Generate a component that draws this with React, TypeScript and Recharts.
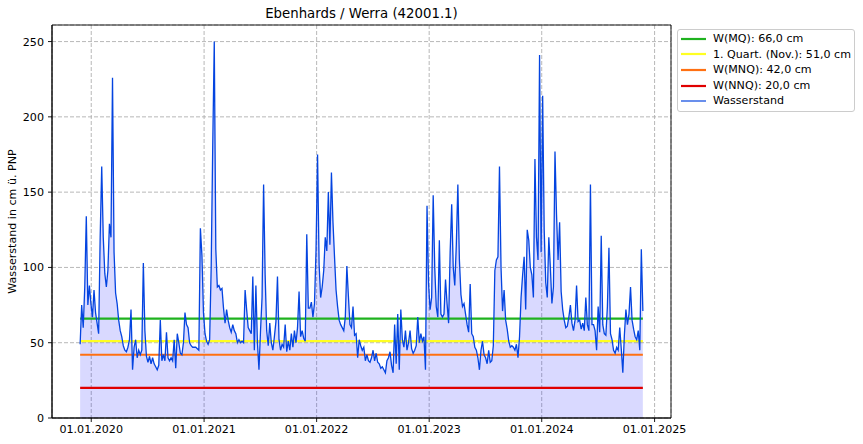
import React from 'react';
import {
  ComposedChart,
  Area,
  Line,
  XAxis,
  YAxis,
  CartesianGrid,
  ReferenceArea,
  Legend,
} from 'recharts';

// ---- data ----
const seriesStart = Date.UTC(2019, 10, 26);
const stepDays = 5;
const DAY_MS = 86400000;

// Wasserstand (cm), one reading every 5 days from 26.11.2019
const waterLevel: number[] = [
  49, 75, 60, 87, 134, 75, 88, 76, 67, 85,
  70, 63, 56, 120, 167, 120, 96, 87, 98, 129,
  120, 226, 110, 83, 76, 65, 58, 54, 48, 45,
  44, 47, 52, 72, 32, 47, 52, 40, 45, 42,
  45, 103, 58, 41, 37, 41, 36, 40, 36, 34,
  32, 35, 65, 38, 42, 38, 57, 40, 38, 40,
  38, 52, 33, 56, 50, 43, 42, 50, 70, 62,
  60, 50, 48, 47, 47, 47, 46, 45, 126, 108,
  70, 56, 51, 49, 52, 100, 180, 250, 112, 87,
  88, 85, 86, 73, 63, 72, 65, 60, 57, 62,
  58, 56, 50, 52, 50, 51, 50, 85, 72, 60,
  58, 56, 94, 45, 88, 50, 32, 58, 80, 155,
  95, 58, 48, 63, 50, 45, 54, 64, 94, 52,
  45, 49, 47, 62, 44, 51, 45, 56, 47, 58,
  50, 60, 84, 54, 58, 53, 51, 122, 73, 73,
  77, 67, 76, 111, 175, 102, 80, 87, 98, 120,
  111, 150, 115, 163, 130, 107, 85, 74, 65, 62,
  60, 58, 67, 101, 81, 62, 60, 74, 55, 56,
  40, 52, 48, 45, 47, 38, 42, 38, 37, 40,
  45, 38, 43, 37, 36, 33, 34, 32, 30, 38,
  40, 44, 35, 30, 62, 36, 69, 32, 72, 52,
  47, 58, 45, 50, 58, 46, 43, 45, 48, 67,
  50, 56, 51, 54, 32, 141, 89, 72, 80, 148,
  100, 74, 67, 118, 69, 67, 69, 92, 76, 63,
  110, 142, 100, 88, 115, 155, 105, 82, 74, 76,
  69, 62, 57, 89, 56, 54, 47, 45, 40, 32,
  45, 51, 42, 40, 36, 45, 37, 38, 48, 98,
  105, 107, 167, 100, 71, 85, 65, 59, 51, 47,
  48, 47, 45, 49, 40, 54, 80, 95, 107, 72,
  125, 118, 100, 95, 80, 172, 120, 105, 241, 110,
  214, 125, 90, 80, 120, 100, 76, 87, 177, 135,
  105, 130, 84, 72, 65, 60, 61, 67, 75, 63,
  58, 65, 88, 64, 65, 59, 63, 58, 80, 62,
  58, 155, 62, 62, 58, 45, 74, 57, 121, 62,
  56, 55, 74, 113, 56, 52, 45, 43, 47, 45,
  60, 46, 30, 55, 72, 62, 69, 87, 65, 59,
  54, 52, 58, 45, 112, 71,
];

const thresholdLabels = [
  'W(MQ): 66,0 cm',
  '1. Quart. (Nov.): 51,0 cm',
  'W(MNQ): 42,0 cm',
  'W(NNQ): 20,0 cm',
];
const thresholdValues = [66, 51, 42, 20];
const thresholdColors = ['#1fb21f', '#ffff22', '#ff7012', '#e00000'];

const seriesLabel = 'Wasserstand';
const seriesColor = '#0444e0';

const yTicks = [0, 50, 100, 150, 200, 250];
const xTickYears = [2020, 2021, 2022, 2023, 2024, 2025];

const chartTitle = 'Ebenhards / Werra (42001.1)';
const yAxisTitle = 'Wasserstand in cm ü. PNP';

// ---- derived ----
const data = waterLevel.map((v, i) => ({ t: seriesStart + i * stepDays * DAY_MS, v }));
const tFirst = data[0].t;
const tLast = data[data.length - 1].t;
const tPad = (tLast - tFirst) * 0.05;
const xDomain: [number, number] = [tFirst - tPad, tLast + tPad];
const yDomain: [number, number] = [0, 261];
const xTicks = xTickYears.map((y) => Date.UTC(y, 0, 1));
const thresholdData = thresholdValues.map((val) => [
  { t: tFirst, h: val },
  { t: tLast, h: val },
]);

const FONT = '"DejaVu Sans", sans-serif';

const fmtDate = (t: number) => {
  const d = new Date(t);
  return `01.01.${d.getUTCFullYear()}`;
};

const legendItems = [
  ...thresholdLabels.map((l, i) => ({ label: l, color: thresholdColors[i], w: 2.2 })),
  { label: seriesLabel, color: seriesColor, w: 1.2 },
];

const renderLegend = () => (
  <div
    style={{
      border: '1px solid #cccccc',
      borderRadius: 3,
      background: '#ffffff',
      padding: '1px 3px 2px 2px',
      fontFamily: FONT,
      fontSize: 11.1,
      lineHeight: '15.6px',
      color: '#000',
    }}
  >
    {legendItems.map((it) => (
      <div key={it.label} style={{ display: 'flex', alignItems: 'center', whiteSpace: 'nowrap' }}>
        <svg width={33} height={10} style={{ display: 'block' }}>
          <line x1={1} x2={26} y1={5} y2={5} stroke={it.color} strokeWidth={it.w} />
        </svg>
        <span>{it.label}</span>
      </div>
    ))}
  </div>
);

const renderYLabel = (props: any) => {
  const vb = props.viewBox || { x: 0, y: 25, width: 52, height: 393 };
  const cx = vb.x + 12;
  const cy = vb.y + vb.height / 2;
  return (
    <text
      x={cx}
      y={cy}
      transform={`rotate(-90, ${cx}, ${cy})`}
      textAnchor="middle"
      dominantBaseline="central"
      fontFamily={FONT}
      fontSize={11.1}
      fill="#000"
    >
      {yAxisTitle}
    </text>
  );
};

export default function App() {
  return (
    <div style={{ position: 'absolute', left: 0, top: 0, width: 863, height: 444, background: '#fff' }}>
      <div
        style={{
          position: 'absolute',
          left: 52,
          top: 5,
          width: 619,
          textAlign: 'center',
          fontFamily: FONT,
          fontSize: 13.3,
          lineHeight: '18px',
          color: '#000',
        }}
      >
        {chartTitle}
      </div>
      <ComposedChart
        width={863}
        height={444}
        data={data}
        margin={{ top: 25, right: 192, bottom: 0, left: 0 }}
      >
        <CartesianGrid stroke="#b0b0b0" strokeDasharray="4 2" strokeWidth={0.9} />
        <XAxis
          dataKey="t"
          type="number"
          domain={xDomain}
          allowDataOverflow
          ticks={xTicks}
          tickFormatter={fmtDate}
          height={26}
          tickSize={4}
          tickMargin={3}
          axisLine={{ stroke: '#000', strokeWidth: 0.9 }}
          tickLine={{ stroke: '#000', strokeWidth: 0.9 }}
          tick={{ fill: '#000', fontSize: 11.1, fontFamily: FONT }}
          interval={0}
        />
        <YAxis
          type="number"
          domain={yDomain}
          allowDataOverflow
          ticks={yTicks}
          width={52}
          tickSize={4}
          tickMargin={4}
          axisLine={{ stroke: '#000', strokeWidth: 0.9 }}
          tickLine={{ stroke: '#000', strokeWidth: 0.9 }}
          tick={{ fill: '#000', fontSize: 11.1, fontFamily: FONT }}
          interval={0}
          label={{ content: renderYLabel }}
        />
        <Area
          type="linear"
          dataKey="v"
          name="fill"
          stroke="none"
          fill="#0000ff"
          fillOpacity={0.15}
          dot={false}
          activeDot={false}
          isAnimationActive={false}
          legendType="none"
        />
        {thresholdValues.map((val, i) => (
          <Line
            key={thresholdLabels[i]}
            data={thresholdData[i]}
            dataKey="h"
            name={thresholdLabels[i]}
            type="linear"
            stroke={thresholdColors[i]}
            strokeWidth={2.2}
            dot={false}
            activeDot={false}
            isAnimationActive={false}
          />
        ))}
        <Line
          type="linear"
          dataKey="v"
          name={seriesLabel}
          stroke={seriesColor}
          strokeWidth={1.3}
          dot={false}
          activeDot={false}
          isAnimationActive={false}
        />
        <ReferenceArea
          x1={xDomain[0]}
          x2={xDomain[1]}
          y1={yDomain[0]}
          y2={yDomain[1]}
          fill="none"
          stroke="#000"
          strokeWidth={0.9}
        />
        <Legend
          layout="vertical"
          align="center"
          verticalAlign="middle"
          content={renderLegend}
          wrapperStyle={{ left: 677, top: 29, width: 'auto', height: 'auto' }}
        />
      </ComposedChart>
    </div>
  );
}
